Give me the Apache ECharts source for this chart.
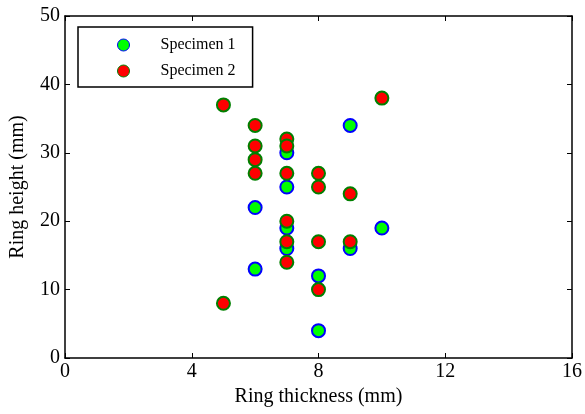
<!DOCTYPE html>
<html>
<head>
<meta charset="utf-8">
<script src="https://cdn.jsdelivr.net/npm/echarts@6/dist/echarts.min.js"></script>
<style>
  html, body { margin: 0; padding: 0; background: #fff; }
  #main { width: 585px; height: 414px; }
</style>
</head>
<body>
<div id="main"></div>
<script>
// 数据：点 (厚度, 高度)
var specimen1 = [
    [6, 22], [6, 13],
    [7, 30], [7, 25], [7, 19], [7, 16],
    [8, 12], [8, 4],
    [9, 34], [9, 16],
    [10, 19]
];
var specimen2 = [
    [5, 37], [5, 8],
    [6, 34], [6, 31], [6, 29], [6, 27],
    [7, 32], [7, 31], [7, 27], [7, 20], [7, 17], [7, 14],
    [8, 27], [8, 25], [8, 17], [8, 10],
    [9, 24], [9, 17],
    [10, 38]
];
var xTicks = [0, 4, 8, 12, 16];
var yTicks = [0, 10, 20, 30, 40, 50];

var font = 'Liberation Serif, Times New Roman, serif';

var myChart = echarts.init(document.getElementById('main'));

// 边框上的坐标轴（上、右）只画刻度
function frameAxis(pos, min, max, interval) {
    return {
        type: 'value',
        position: pos,
        min: min, max: max, interval: interval,
        axisLine: { show: true, onZero: false, lineStyle: { color: '#000', width: 1.5 } },
        axisTick: { show: true, inside: true, length: 5, lineStyle: { color: '#000' } },
        axisLabel: { show: false },
        splitLine: { show: false }
    };
}

var option = {
    animation: false,
    grid: { left: 65, right: 12, top: 16, bottom: 56 },
    legend: {
        orient: 'vertical',
        left: 78, top: 27,
        padding: [10, 17, 8, 39],
        itemWidth: 12, itemHeight: 12,
        itemGap: 10,
        borderColor: '#000', borderWidth: 1.5,
        backgroundColor: '#fff',
        textStyle: { fontFamily: font, fontSize: 16, lineHeight: 16, color: '#000', padding: [0, 0, 0, 26] },
        data: [
            { name: 'Specimen 1', itemStyle: { color: '#00ff00', borderColor: '#0000ff', borderWidth: 1 } },
            { name: 'Specimen 2', itemStyle: { color: '#ff0000', borderColor: '#008000', borderWidth: 1 } }
        ]
    },
    xAxis: [{
        type: 'value',
        min: 0, max: 16, interval: 4,
        name: 'Ring thickness (mm)',
        nameLocation: 'middle',
        nameGap: 29,
        nameTextStyle: { fontFamily: font, fontSize: 20, color: '#000' },
        axisLine: { onZero: false, lineStyle: { color: '#000', width: 1.5 } },
        axisTick: { inside: true, length: 5, lineStyle: { color: '#000' } },
        axisLabel: { fontFamily: font, fontSize: 20, color: '#000', margin: 4,
            formatter: function (v) { return xTicks.indexOf(v) >= 0 ? v : ''; } },
        splitLine: { show: false }
    }, frameAxis('top', 0, 16, 4)],
    yAxis: [{
        type: 'value',
        min: 0, max: 50, interval: 10,
        name: 'Ring height (mm)',
        nameLocation: 'middle',
        nameGap: 37,
        nameTextStyle: { fontFamily: font, fontSize: 20, color: '#000' },
        axisLine: { onZero: false, lineStyle: { color: '#000', width: 1.5 } },
        axisTick: { inside: true, length: 5, lineStyle: { color: '#000' } },
        axisLabel: { fontFamily: font, fontSize: 20, color: '#000', margin: 5,
            formatter: function (v) { return yTicks.indexOf(v) >= 0 ? v : ''; } },
        splitLine: { show: false }
    }, frameAxis('right', 0, 50, 10)],
    series: [{
        name: 'Specimen 1',
        type: 'scatter',
        symbol: 'circle',
        symbolSize: 13,
        data: specimen1,
        itemStyle: { color: '#00ff00', borderColor: '#0000ff', borderWidth: 2, opacity: 1 }
    }, {
        name: 'Specimen 2',
        type: 'scatter',
        symbol: 'circle',
        symbolSize: 13,
        data: specimen2,
        itemStyle: { color: '#ff0000', borderColor: '#008000', borderWidth: 2, opacity: 1 }
    }]
};

myChart.setOption(option);
</script>
</body>
</html>
